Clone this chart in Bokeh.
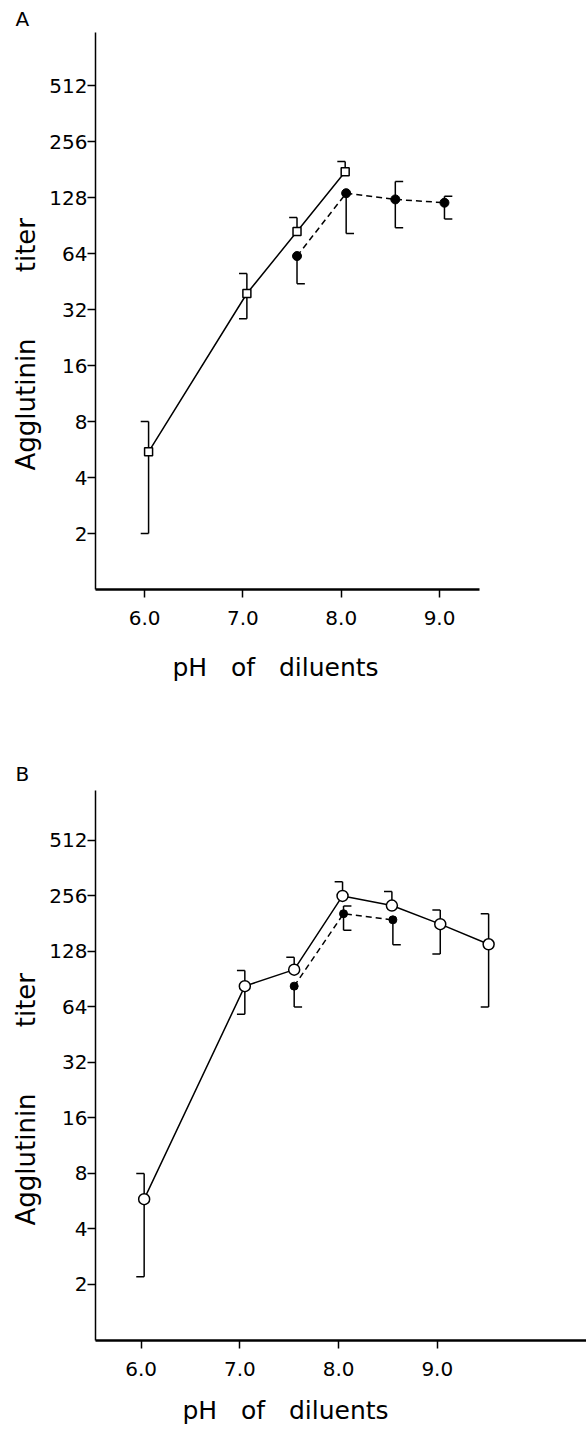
import numpy as np
from bokeh.plotting import figure
from bokeh.layouts import column
from bokeh.models import Range1d, FixedTicker, PrintfTickFormatter, Title
from bokeh.embed import file_html
from bokeh.resources import INLINE

nan = float("nan")

# ---------------- Panel A ----------------
a_open_ph = [6.04, 7.04, 7.55, 8.04]
a_open_titer = [5.5, 39, 84, 176]
a_open_hi = [8, 50, 100, 200]
a_open_lo = [2, 28.5, nan, nan]

a_fill_ph = [7.55, 8.05, 8.55, 9.05]
a_fill_titer = [62, 135, 125, 120]
a_fill_hi = [nan, nan, 156, 130]
a_fill_lo = [44, 82, 88, 98]

# ---------------- Panel B ----------------
b_open_ph = [6.03, 7.05, 7.55, 8.04, 8.54, 9.03, 9.52]
b_open_titer = [5.8, 83, 102, 256, 227, 180, 140]
b_open_hi = [8, 101, 119, 306, 271, 215, 205]
b_open_lo = [2.2, 58.5, nan, nan, nan, 124, 64]

b_fill_ph = [7.55, 8.05, 8.55]
b_fill_titer = [83, 205, 190]
b_fill_hi = [nan, 226, nan]
b_fill_lo = [64, 167, 139]

y_ticks = [2, 4, 8, 16, 32, 64, 128, 256, 512]
x_ticks = [6, 7, 8, 9]

Y_LABEL = "Agglutinin" + "\u00a0" * 8 + "titer"
X_LABEL = "pH" + "\u00a0" * 3 + "of" + "\u00a0" * 3 + "diluents"

FONT = "DejaVu Sans"
CAP = 0.08
LEFT = 95


def errbars(p, ph, titer, hi, lo, direction):
    ph = np.array(ph, float)
    t = np.array(titer, float)
    hi = np.array(hi, float)
    lo = np.array(lo, float)
    top = np.where(np.isnan(hi), t, hi)
    bot = np.where(np.isnan(lo), t, lo)
    p.segment(ph, bot, ph, top, line_color="black", line_width=1.5)
    m = ~np.isnan(hi)
    p.segment(ph[m], hi[m], ph[m] + direction * CAP, hi[m], line_color="black", line_width=1.5)
    m = ~np.isnan(lo)
    p.segment(ph[m], lo[m], ph[m] + direction * CAP, lo[m], line_color="black", line_width=1.5)


def make_fig(height, top, bottom, x0, ppu_x, yb, ppu_y, axis_end):
    frame_w = 586 - LEFT
    frame_h = height - top - bottom
    x_end = x0 + frame_w / ppu_x
    p = figure(width=586, height=height, y_axis_type="log",
               x_range=Range1d(x0, x_end),
               y_range=Range1d(2 ** yb, 2 ** (yb + frame_h / ppu_y)),
               output_backend="svg", toolbar_location=None,
               min_border_left=LEFT, min_border_right=0,
               min_border_top=top, min_border_bottom=bottom)
    p.outline_line_color = None
    p.grid.visible = False
    p.background_fill_color = "white"
    p.border_fill_color = "white"
    for ax in (p.xaxis, p.yaxis):
        ax.major_tick_out = 8
        ax.major_tick_in = 0
        ax.minor_tick_line_color = None
        ax.major_label_text_font = FONT
        ax.major_label_text_font_size = "20px"
        ax.major_label_text_color = "black"
        ax.axis_line_color = "black"
        ax.major_tick_line_color = "black"
    p.yaxis.ticker = FixedTicker(ticks=y_ticks)
    p.yaxis.formatter = PrintfTickFormatter(format="%d")
    p.yaxis.axis_line_width = 1.5
    p.yaxis.major_tick_line_width = 1.5
    p.yaxis.major_label_standoff = 0
    p.xaxis.ticker = FixedTicker(ticks=x_ticks)
    p.xaxis.formatter = PrintfTickFormatter(format="%.1f")
    p.xaxis.axis_line_width = 2.5
    p.xaxis.major_tick_line_width = 1.5
    p.xaxis.major_label_standoff = 13
    p.xaxis.bounds = (x0, axis_end)
    return p


def add_texts(p, letter, letter_standoff, y_offset, x_offset, x_standoff):
    p.add_layout(Title(text=letter, align="left", offset=-80, standoff=letter_standoff,
                       text_font=FONT, text_font_size="20px", text_font_style="normal",
                       text_color="black"), "above")
    p.add_layout(Title(text=Y_LABEL, align="left", offset=y_offset, standoff=12,
                       text_font=FONT, text_font_size="26px", text_font_style="normal",
                       text_color="black"), "left")
    p.add_layout(Title(text=X_LABEL, align="left", offset=x_offset, standoff=x_standoff,
                       text_font=FONT, text_font_size="25px", text_font_style="normal",
                       text_color="black"), "below")


# Panel A figure
pa = make_fig(720, 32, 131, 5.50, 98.3, 0.0, 56.0, 9.41)
pa.line(a_open_ph, a_open_titer, line_color="black", line_width=1.5)
pa.line(a_fill_ph, a_fill_titer, line_color="black", line_width=1.5, line_dash="6 4")
errbars(pa, a_open_ph, a_open_titer, a_open_hi, a_open_lo, -1)
errbars(pa, a_fill_ph, a_fill_titer, a_fill_hi, a_fill_lo, 1)
pa.scatter(a_fill_ph, a_fill_titer, marker="circle", size=9, fill_color="black", line_color="black")
pa.scatter(a_open_ph, a_open_titer, marker="square", size=8, fill_color="white",
           line_color="black", line_width=1.5)
add_texts(pa, "A", 4, 119, 77, 47)

# Panel B figure
pb = make_fig(719, 70, 99, 5.537, 98.7, -0.01, 55.5, 10.6)
pb.line(b_open_ph, b_open_titer, line_color="black", line_width=1.5)
pb.line(b_fill_ph, b_fill_titer, line_color="black", line_width=1.5, line_dash="6 4")
errbars(pb, b_open_ph, b_open_titer, b_open_hi, b_open_lo, -1)
errbars(pb, b_fill_ph, b_fill_titer, b_fill_hi, b_fill_lo, 1)
pb.scatter(b_fill_ph, b_fill_titer, marker="circle", size=8, fill_color="black", line_color="black")
pb.scatter(b_open_ph, b_open_titer, marker="circle", size=11, fill_color="white",
           line_color="black", line_width=1.5)
add_texts(pb, "B", 10, 115, 87, 30)

layout = column(pa, pb, spacing=0)
open("out.html", "w").write(file_html(layout, INLINE))
